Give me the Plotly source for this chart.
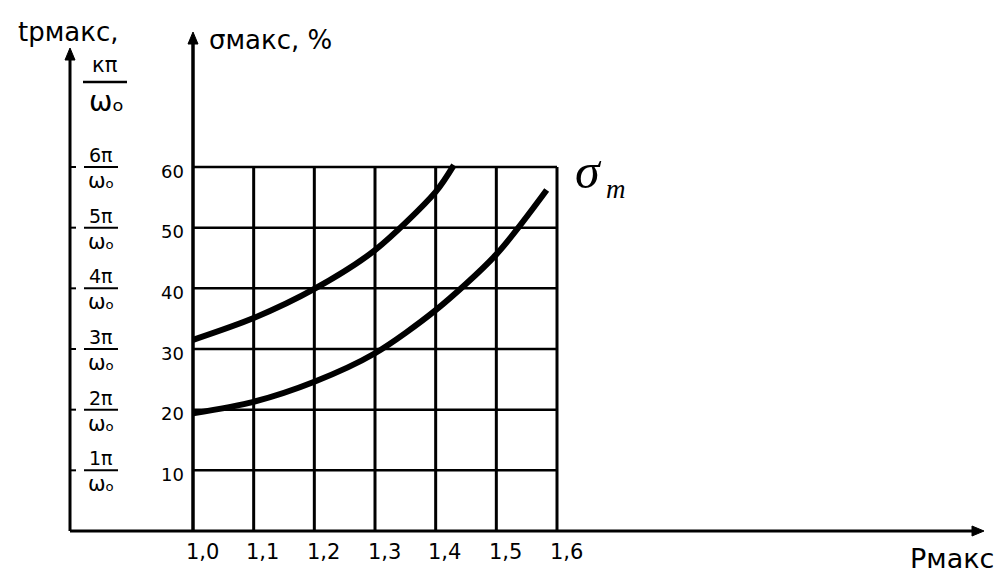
import plotly.graph_objects as go

# sigma max (%) against p max, two curves
p_upper = [1.0, 1.1, 1.2, 1.3, 1.4, 1.43]
sigma_upper = [31.5, 35.1, 39.9, 46.3, 55.9, 60.3]
p_lower = [1.0, 1.1, 1.2, 1.3, 1.4, 1.5, 1.583]
sigma_lower = [19.4, 21.3, 24.6, 29.3, 36.4, 45.6, 56.2]

p_ticks = [1.0, 1.1, 1.2, 1.3, 1.4, 1.5, 1.6]
p_tick_labels = ["1,0", "1,1", "1,2", "1,3", "1,4", "1,5", "1,6"]
sigma_ticks = [10, 20, 30, 40, 50, 60]
sigma_tick_labels = ["10", "20", "30", "40", "50", "60"]
tp_numerators = ["1π", "2π", "3π", "4π", "5π", "6π"]
OMEGA0 = "ωₒ"

# page geometry (pixels)
W, H = 1003, 577
X10_PX, X16_PX = 193, 557     # p = 1.0 and p = 1.6
Y0_PX, Y60_PX = 531, 167      # sigma = 0 and sigma = 60

kx = (X16_PX - X10_PX) / (p_ticks[-1] - p_ticks[0])
ky = (Y0_PX - Y60_PX) / sigma_ticks[-1]
x_range = [p_ticks[0] - X10_PX / kx, p_ticks[0] + (W - X10_PX) / kx]
y_range = [-(H - Y0_PX) / ky, Y0_PX / ky]


def to_x(px):
    return x_range[0] + px / kx


def to_y(py):
    return (Y0_PX - py) / ky


def px_of(x):
    return (x - x_range[0]) * kx


def py_of(y):
    return Y0_PX - y * ky


def arrow_path(tip_px, tip_py, direction, length=12, half=5):
    """Filled triangular arrow head, given in pixel terms, converted to data."""
    if direction == "up":
        pts = [(tip_px, tip_py), (tip_px - half, tip_py + length), (tip_px + half, tip_py + length)]
    else:  # right
        pts = [(tip_px, tip_py), (tip_px - length, tip_py - half), (tip_px - length, tip_py + half)]
    d = "M " + " L ".join(f"{to_x(a)},{to_y(b)}" for a, b in pts) + " Z"
    return dict(type="path", path=d, fillcolor="black", line=dict(color="black", width=1))


FONT = "DejaVu Sans"
INK = "black"

fig = go.Figure()

for xs, ys in [(p_upper, sigma_upper), (p_lower, sigma_lower)]:
    fig.add_trace(go.Scatter(
        x=xs, y=ys, mode="lines",
        line=dict(color=INK, width=6, shape="spline", smoothing=0.8),
        hoverinfo="skip", showlegend=False,
    ))

shapes = []
# grid
for p in p_ticks[1:]:
    shapes.append(dict(type="line", x0=p, x1=p, y0=0, y1=sigma_ticks[-1],
                       line=dict(color=INK, width=3)))
for s in sigma_ticks:
    shapes.append(dict(type="line", x0=p_ticks[0], x1=p_ticks[-1], y0=s, y1=s,
                       line=dict(color=INK, width=2.5)))
# axes
x_outer = to_x(70)
shapes.append(dict(type="line", x0=p_ticks[0], x1=p_ticks[0], y0=0, y1=to_y(40),
                   line=dict(color=INK, width=3.5)))
shapes.append(dict(type="line", x0=x_outer, x1=x_outer, y0=0, y1=to_y(55),
                   line=dict(color=INK, width=3)))
shapes.append(dict(type="line", x0=x_outer, x1=to_x(972), y0=0, y1=0,
                   line=dict(color=INK, width=3)))
# axis arrow heads
shapes.append(arrow_path(px_of(p_ticks[0]), 32, "up"))
shapes.append(arrow_path(70, 48, "up"))
shapes.append(arrow_path(984, py_of(0), "right"))
# small ticks on the outer axis and fraction bars
for s in sigma_ticks:
    shapes.append(dict(type="line", x0=x_outer, x1=to_x(76), y0=s, y1=s,
                       line=dict(color=INK, width=2)))
    shapes.append(dict(type="line", x0=to_x(84), x1=to_x(118), y0=s, y1=s,
                       line=dict(color=INK, width=2)))
# bar of the k*pi/omega0 heading
shapes.append(dict(type="line", x0=to_x(83), x1=to_x(127), y0=to_y(82), y1=to_y(82),
                   line=dict(color=INK, width=2.5)))

ann = []
for s, lab in zip(sigma_ticks, sigma_tick_labels):
    ann.append(dict(x=to_x(172), y=s, yshift=-4, text=lab, showarrow=False,
                    font=dict(family=FONT, size=18, color=INK)))
for p, lab in zip(p_ticks, p_tick_labels):
    ann.append(dict(x=p, xshift=9, y=to_y(552), text=lab, showarrow=False,
                    font=dict(family=FONT, size=21, color=INK)))
for s, num in zip(sigma_ticks, tp_numerators):
    ann.append(dict(x=to_x(101), y=s, yshift=12, text=num, showarrow=False,
                    font=dict(family=FONT, size=19, color=INK)))
    ann.append(dict(x=to_x(101), y=s, yshift=-14, text=OMEGA0, showarrow=False,
                    font=dict(family=FONT, size=21, color=INK)))

# headings
ann.append(dict(x=to_x(68), y=to_y(32), text="tрмакс,", showarrow=False,
                font=dict(family=FONT, size=26, color=INK)))
ann.append(dict(x=to_x(105), y=to_y(65), text="кπ", showarrow=False,
                font=dict(family=FONT, size=21, color=INK)))
ann.append(dict(x=to_x(106), y=to_y(101), text=OMEGA0, showarrow=False,
                font=dict(family=FONT, size=28, color=INK)))
ann.append(dict(x=to_x(270), y=to_y(40), text="σмакс, %", showarrow=False,
                font=dict(family=FONT, size=26, color=INK)))
ann.append(dict(x=to_x(952), y=to_y(558), text="Pмакс", showarrow=False,
                font=dict(family=FONT, size=27, color=INK)))
ann.append(dict(x=to_x(588), y=to_y(171), text="σ", showarrow=False,
                font=dict(family="Liberation Serif", size=50, color=INK, style="italic")))
ann.append(dict(x=to_x(616), y=to_y(189), text="m", showarrow=False,
                font=dict(family="Liberation Serif", size=27, color=INK, style="italic")))

fig.update_layout(
    width=W, height=H,
    margin=dict(l=0, r=0, t=0, b=0),
    paper_bgcolor="white", plot_bgcolor="white",
    xaxis=dict(range=x_range, visible=False, fixedrange=True),
    yaxis=dict(range=y_range, visible=False, fixedrange=True),
    shapes=shapes, annotations=ann,
)

fig.write_html("out.html")
